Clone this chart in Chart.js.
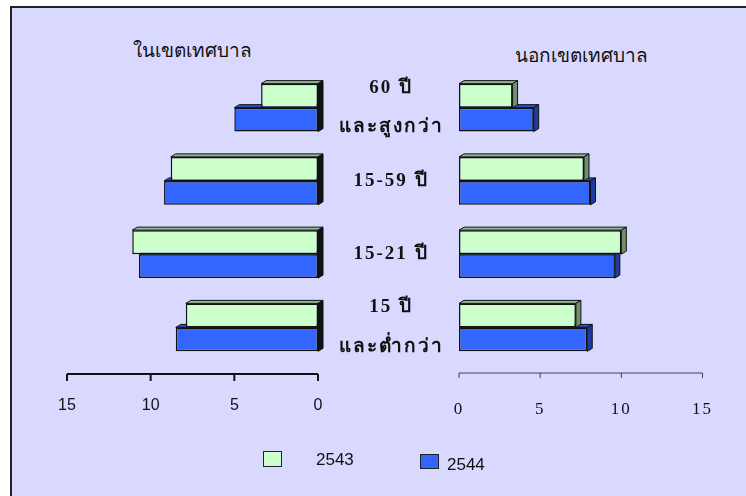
<!DOCTYPE html>
<html>
<head>
<meta charset="utf-8">
<script src="https://cdn.jsdelivr.net/npm/chart.js@4/dist/chart.umd.min.js"></script>
<style>
html, body { margin: 0; padding: 0; background: #fff; }
#page { position: absolute; left: 0; top: 0; width: 746px; height: 496px; overflow: hidden; }
#frame { position: absolute; left: 10px; top: 6px; width: 736px; height: 490px; background: #d9d9ff;
         border-left: 2px solid #222; border-top: 2px solid #222; box-sizing: border-box; }
canvas { position: absolute; left: 0; top: 0; }
.title { position: absolute; font-family: "Noto Sans", sans-serif; font-size: 19px; color: #111; }
.box { position: absolute; border: 1.5px solid #222; box-sizing: border-box; }
.leg { position: absolute; font-family: "Liberation Sans", Arial, sans-serif; font-size: 17px; color: #111; }
</style>
</head>
<body>
<div id="page">
  <div id="frame"></div>
  <div class="title" style="left:133px; top:35px;">ในเขตเทศบาล</div>
  <div class="title" style="left:515px; top:40px;">นอกเขตเทศบาล</div>
  <div style="position:absolute; left:0; top:0; width:746px; height:496px;">
    <canvas id="leftChart" width="746" height="496"></canvas>
  </div>
  <div style="position:absolute; left:0; top:0; width:746px; height:496px;">
    <canvas id="rightChart" width="746" height="496"></canvas>
  </div>
  <div class="box" style="left:263px; top:451px; width:19px; height:16px; background:#ccffcc;"></div>
  <div class="leg" style="left:316px; top:450px;">2543</div>
  <div class="box" style="left:420px; top:454px; width:19px; height:15px; background:#3366ff;"></div>
  <div class="leg" style="left:447px; top:455px;">2544</div>
</div>
<script>
"use strict";

// age groups, top to bottom
const ageGroups = [['60 ปี', 'และสูงกว่า'], '15-59 ปี', '15-21 ปี', ['15 ปี', 'และต่ำกว่า']];
const years = ['2543', '2544'];
// ในเขตเทศบาล
const inside2543 = [3.4, 8.8, 11.1, 7.9];
const inside2544 = [5.0, 9.2, 10.7, 8.5];
// นอกเขตเทศบาล
const outside2543 = [3.3, 7.7, 10.0, 7.2];
const outside2544 = [4.6, 8.1, 9.6, 7.9];
const tickValues = [0, 5, 10, 15];

const DX = 5, DY = 3;

function poly(ctx, pts, fill) {
    ctx.beginPath();
    ctx.moveTo(pts[0][0], pts[0][1]);
    for (let i = 1; i < pts.length; i++) ctx.lineTo(pts[i][0], pts[i][1]);
    ctx.closePath();
    ctx.fillStyle = fill;
    ctx.fill();
    ctx.stroke();
}

// fake 3d: top and side faces behind the bars chart.js draws
const bars3d = {
    id: 'bars3d',
    beforeDatasetsDraw(chart) {
        const ctx = chart.ctx;
        ctx.save();
        ctx.strokeStyle = '#111';
        ctx.lineWidth = 1;
        for (let d = chart.data.datasets.length - 1; d >= 0; d--) {
            const ds = chart.data.datasets[d];
            chart.getDatasetMeta(d).data.forEach(bar => {
                const x0 = Math.min(bar.x, bar.base), x1 = Math.max(bar.x, bar.base);
                const top = bar.y - bar.height / 2, bot = bar.y + bar.height / 2;
                poly(ctx, [[x0, top], [x1, top], [x1 + DX, top - DY], [x0 + DX, top - DY]], ds.topColor);
                poly(ctx, [[x1, top], [x1 + DX, top - DY], [x1 + DX, bot - DY], [x1, bot]], ds.sideColor);
            });
        }
        ctx.restore();
    }
};

// axis line with tick marks below the plot
const axisLine = {
    id: 'axisLine',
    afterDraw(chart, args, o) {
        const xs = chart.scales.x, ctx = chart.ctx;
        ctx.save();
        ctx.letterSpacing = '0px';
        ctx.strokeStyle = o.color;
        ctx.lineWidth = o.width;
        ctx.beginPath();
        ctx.moveTo(xs.getPixelForValue(0), o.y);
        ctx.lineTo(xs.getPixelForValue(15), o.y);
        tickValues.forEach(v => {
            const px = xs.getPixelForValue(v);
            ctx.moveTo(px, o.y);
            ctx.lineTo(px, o.y + o.len);
        });
        ctx.stroke();
        ctx.restore();
    }
};

const spaced = {
    id: 'spaced',
    beforeDraw(chart, args, o) { chart.ctx.letterSpacing = o.px + 'px'; },
    afterDraw(chart) { chart.ctx.letterSpacing = '0px'; }
};

Chart.defaults.animation = false;
Chart.defaults.responsive = false;
Chart.defaults.plugins.legend.display = false;
Chart.defaults.plugins.tooltip.enabled = false;

function makeDatasets(a, b, side2543, side2544) {
    return [{
        label: years[0], data: a,
        backgroundColor: '#ccffcc', borderColor: '#111', borderWidth: 1.5, borderSkipped: false,
        topColor: '#94b894', sideColor: side2543,
        barPercentage: 1, categoryPercentage: 0.655
    }, {
        label: years[1], data: b,
        backgroundColor: '#3366ff', borderColor: '#111', borderWidth: 1.5, borderSkipped: false,
        topColor: '#2a4cc4', sideColor: side2544,
        barPercentage: 1, categoryPercentage: 0.655
    }];
}

let leftChart = new Chart(document.getElementById('leftChart'), {
    type: 'bar',
    data: { labels: ageGroups, datasets: makeDatasets(inside2543, inside2544, '#111', '#111') },
    options: {
        indexAxis: 'y',
        layout: { padding: { left: 67, right: 428, top: 71, bottom: 0 } },
        plugins: {
            axisLine: { y: 374, len: 7, color: '#111', width: 2 }
        },
        scales: {
            x: {
                reverse: true, min: 0, max: 15,
                afterFit: s => { s.height = 132; },
                afterBuildTicks: s => { s.ticks = tickValues.map(v => ({ value: v })); },
                grid: { display: false, drawTicks: false }, border: { display: false },
                ticks: { padding: 32, color: '#111', font: { family: '"Liberation Sans", Arial', size: 16 } }
            },
            y: { display: false }
        }
    },
    plugins: [bars3d, axisLine]
});

// centre the age labels between the two plots
const labelFont = 'bold 19px "Liberation Serif", "DejaVu Serif", serif';
const mctx = document.createElement('canvas').getContext('2d');
mctx.font = labelFont;
let widest = 0;
ageGroups.flat().forEach(t => { widest = Math.max(widest, mctx.measureText(t).width); });

let rightChart = new Chart(document.getElementById('rightChart'), {
    type: 'bar',
    data: { labels: ageGroups, datasets: makeDatasets(outside2543, outside2544, '#6f8f6f', '#1f3a9c') },
    options: {
        indexAxis: 'y',
        layout: { padding: { left: 325, right: 43, top: 71, bottom: 0 } },
        plugins: {
            axisLine: { y: 373, len: 5, color: '#444', width: 1 },
            spaced: { px: 2 }
        },
        scales: {
            x: {
                min: 0, max: 15,
                afterFit: s => { s.height = 132; },
                afterBuildTicks: s => { s.ticks = tickValues.map(v => ({ value: v })); },
                grid: { display: false, drawTicks: false }, border: { display: false },
                ticks: { padding: 35, color: '#111', font: { family: '"Liberation Serif", "DejaVu Serif", serif', size: 17 } }
            },
            y: {
                afterFit: s => { s.width = 134; },
                grid: { display: false, drawTicks: false }, border: { display: false },
                ticks: {
                    autoSkip: false,
                    crossAlign: 'center', padding: 459 - 391 - widest / 2, color: '#111',
                    font: { family: '"Liberation Serif", "DejaVu Serif", serif', size: 19, weight: 'bold', lineHeight: 2.1 }
                }
            }
        }
    },
    plugins: [bars3d, axisLine, spaced]
});
</script>
</body>
</html>
